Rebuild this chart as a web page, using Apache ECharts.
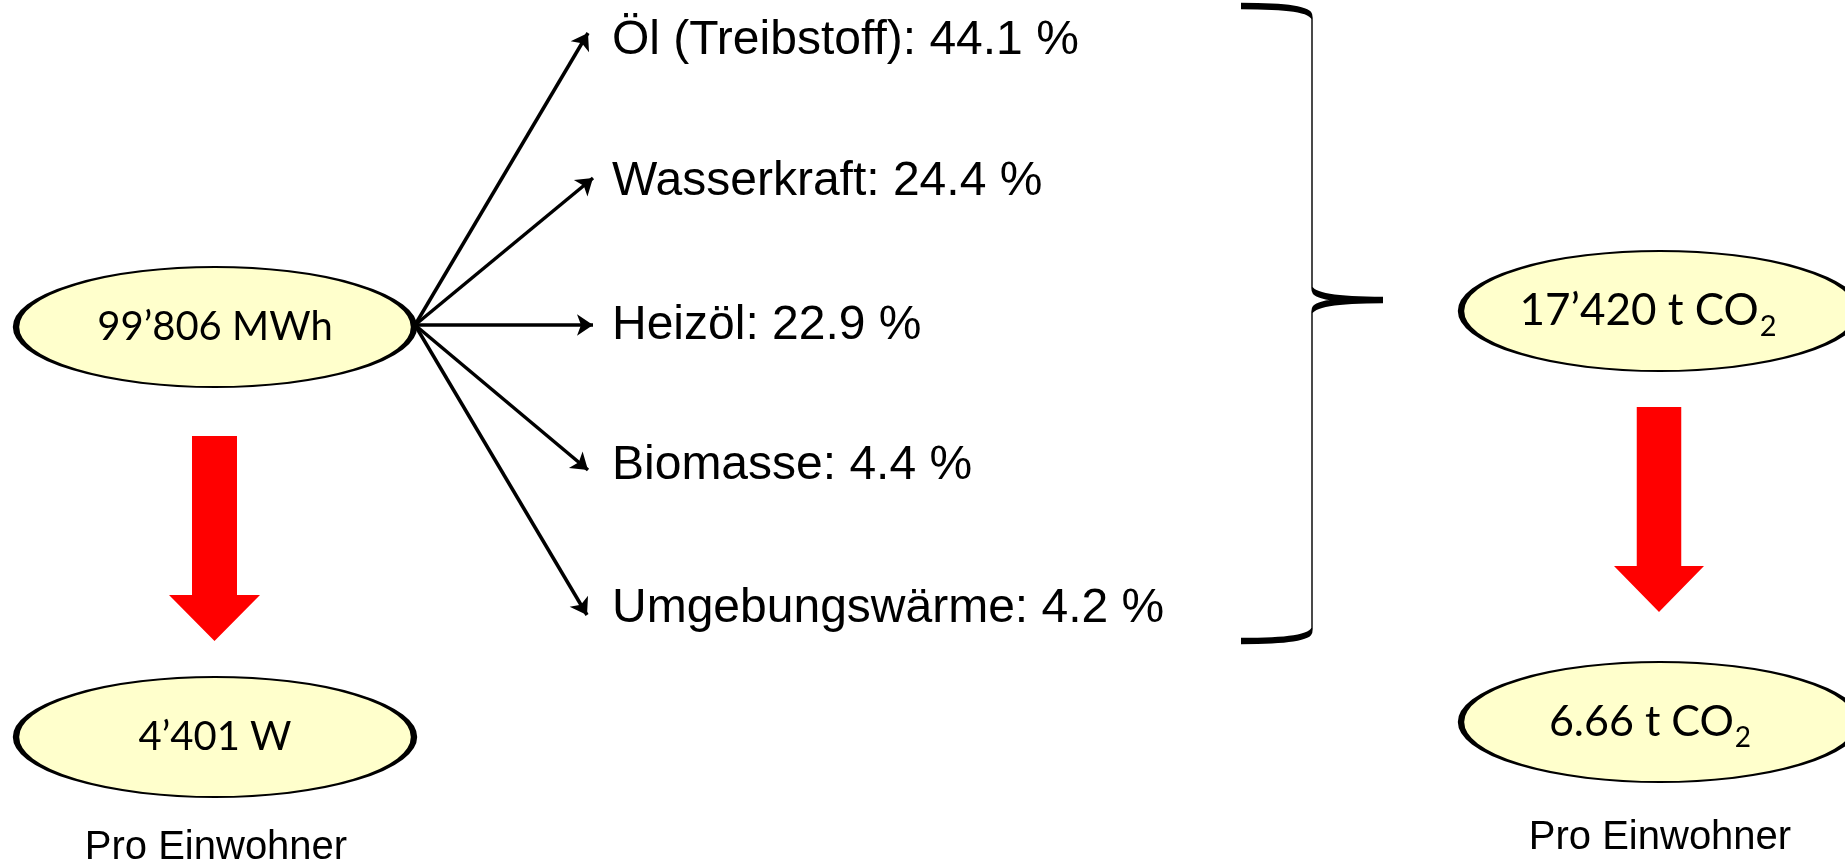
<!DOCTYPE html>
<html>
<head>
<meta charset="utf-8">
<title>Energie und CO2 pro Einwohner</title>
<script src="https://cdn.jsdelivr.net/npm/echarts@6.0.0/dist/echarts.min.js"></script>
<style>
  html, body { margin: 0; padding: 0; background: #fff; }
  #chart { width: 1845px; height: 859px; }
</style>
</head>
<body>
<div id="chart"></div>
<script>
// --- data ---
const sources = ['Öl (Treibstoff)', 'Wasserkraft', 'Heizöl', 'Biomasse', 'Umgebungswärme'];
const shares = [44.1, 24.4, 22.9, 4.4, 4.2];
const energyTotal = 99806;    // MWh
const energyPerHead = 4401;   // W
const co2Total = 17420;       // t CO2
const co2PerHead = 6.66;      // t CO2
const perHeadText = 'Pro Einwohner';

// --- layout (pixel space of the hidden axes) ---
const arrowStart = [415, 325];
const arrowTips = [[588, 33], [593, 178], [593, 325], [588, 470], [587, 615]];
const labelX = 612;
const labelY = [41, 182, 326, 466, 609];
const ellipseSize = [398, 120];
const leftX = 215, rightX = 1660;

const fmt = n => String(n).replace(/\B(?=(\d{3})+(?!\d))/g, '\u2019');

const chart = echarts.init(document.getElementById('chart'));

const ellipseFont = 'Lato, "Open Sans", sans-serif';
const armFont = '"Liberation Sans", Arial, sans-serif';

const blockArrow = 'path://M23,0L68,0L68,159L91,159L45.5,205L0,159L23,159Z';
const bracePath = 'path://M0,0C45,0 71,3 71,12L71,282C71,290 95,294 142,294M142,294C95,294 71,298 71,306L71,623C71,632 45,635 0,635';

const richText = size => ({
  n: { fontFamily: ellipseFont, fontSize: size, color: '#000', lineHeight: size + 6, verticalAlign: 'middle' },
  s: { fontFamily: ellipseFont, fontSize: Math.round(size * 0.65), color: '#000', lineHeight: Math.round(size / 2), verticalAlign: 'top', padding: [Math.round(size * 0.6), 0, 0, 1] }
});

const options = {
  animation: false,
  grid: { left: 0, right: 0, top: 0, bottom: 0 },
  xAxis: { type: 'value', min: 0, max: 1845, show: false },
  yAxis: { type: 'value', min: 0, max: 859, inverse: true, show: false },
  series: [
    {
      // Pfeile zu den Energieträgern
      type: 'lines',
      coordinateSystem: 'cartesian2d',
      silent: true,
      symbol: ['none', 'arrow'],
      symbolSize: 16,
      lineStyle: { color: '#000', width: 3.5, opacity: 1, curveness: 0 },
      data: arrowTips.map(tip => ({ coords: [arrowStart, tip] }))
    },
    {
      // Beschriftung der Energieträger
      type: 'scatter',
      silent: true,
      symbolSize: 0,
      itemStyle: { opacity: 1 },
      label: {
        show: true,
        position: 'right',
        distance: 0,
        color: '#000',
        opacity: 1,
        fontFamily: armFont,
        fontSize: 48,
        formatter: p => `${sources[p.dataIndex]}: ${shares[p.dataIndex].toFixed(1)} %`
      },
      data: labelY.map(y => [labelX, y])
    },
    {
      // rote Pfeile
      type: 'scatter',
      silent: true,
      symbol: blockArrow,
      itemStyle: { color: '#FF0000', opacity: 1 },
      data: [
        { value: [214.5, 538.5], symbolSize: [91, 205] },
        { value: [1659, 509.5], symbolSize: [90, 205] }
      ]
    },
    {
      // geschweifte Klammer
      type: 'scatter',
      silent: true,
      symbol: bracePath,
      symbolSize: [142, 635],
      itemStyle: { color: 'rgba(0,0,0,0)', borderColor: '#000', borderWidth: 3, opacity: 1 },
      data: [[1312, 323.5]]
    },
    {
      // Ellipsen
      type: 'scatter',
      silent: true,
      symbol: 'circle',
      symbolSize: ellipseSize,
      itemStyle: { color: '#FFFFCC', borderColor: '#000', borderWidth: 3.5, opacity: 1 },
      label: {
        show: true,
        position: 'inside',
        opacity: 1,
        formatter: p => p.data.text
      },
      data: [
        { value: [leftX, 327], text: `{n|${fmt(energyTotal)} MWh}`, label: { rich: richText(40) } },
        { value: [leftX, 737], text: `{n|${fmt(energyPerHead)} W}`, label: { rich: richText(40) } },
        { value: [rightX, 311], text: `{n|${fmt(co2Total)} t CO}{s|2}`, label: { rich: richText(44), offset: [-12, 0] } },
        { value: [rightX, 722], text: `{n|${co2PerHead.toFixed(2)} t CO}{s|2}`, label: { rich: richText(43), offset: [-10, 0] } }
      ]
    },
    {
      // Pro Einwohner
      type: 'scatter',
      silent: true,
      symbolSize: 0,
      itemStyle: { opacity: 1 },
      label: {
        show: true,
        position: 'inside',
        color: '#000',
        opacity: 1,
        fontFamily: armFont,
        fontSize: 40,
        formatter: perHeadText
      },
      data: [[216, 848], [1660, 838]]
    }
  ]
};

chart.setOption(options);
</script>
</body>
</html>
